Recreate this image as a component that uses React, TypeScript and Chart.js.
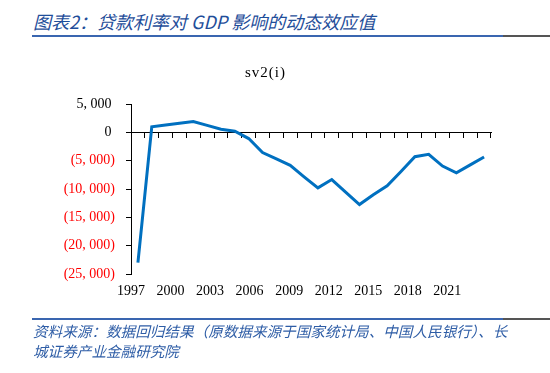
import React, { useEffect, useRef } from "react";
import { Chart, registerables } from "chart.js";

Chart.register(...registerables);

// ---- data ----
const years: string[] = [
  "1997", "1998", "1999", "2000", "2001", "2002", "2003", "2004", "2005",
  "2006", "2007", "2008", "2009", "2010", "2011", "2012", "2013", "2014",
  "2015", "2016", "2017", "2018", "2019", "2020", "2021", "2022",
];
const sv2Values: number[] = [
  -23000, 980, 1300, 1610, 1900, 1220, 560, 200, -1100,
  -3580, -4700, -5830, -7850, -9800, -8330, -10550, -12750, -11000,
  -9450, -6900, -4300, -3870, -5950, -7130, -5750, -4350,
];
const xTickLabels: string[] = [
  "1997", "2000", "2003", "2006", "2009", "2012", "2015", "2018", "2021",
];
const yMin = -25000;
const yMax = 5000;
const yStep = 5000;

const titleText = "图表2：贷款利率对 GDP 影响的动态效应值";
const seriesTitle = "sv2(i)";
const sourceLine1 = "资料来源：数据回归结果（原数据来源于国家统计局、中国人民银行）、长";
const sourceLine2 = "城证券产业金融研究院";

function fmtY(v: number): string {
  const abs = Math.abs(v);
  const s = abs.toLocaleString("en-US").replace(/,/g, ", ");
  if (v < 0) return "(" + s + ")";
  return s + " ";
}

const NUM_FONT = "'Liberation Serif', 'Times New Roman', serif";

export default function App() {
  const ref = useRef<HTMLCanvasElement | null>(null);

  useEffect(() => {
    if (!ref.current) return;
    const chart = new Chart(ref.current, {
      type: "line",
      data: {
        labels: years,
        datasets: [
          {
            label: seriesTitle,
            data: sv2Values,
            borderColor: "#0070C0",
            borderWidth: 3,
            pointRadius: 0,
            tension: 0,
            fill: false,
            xAxisID: "x",
            yAxisID: "y",
          },
        ],
      },
      options: {
        animation: false,
        responsive: false,
        maintainAspectRatio: false,
        events: [],
        layout: { padding: { left: 0, right: 59, top: 104, bottom: 69 } },
        plugins: {
          legend: { display: false },
          title: { display: false },
          tooltip: { enabled: false },
        },
        scales: {
          x: {
            type: "category",
            position: { y: 0 } as any,
            offset: true,
            grid: {
              display: true,
              offset: true,
              drawOnChartArea: false,
              drawTicks: true,
              tickLength: 5,
              color: "#000000",
              lineWidth: 1,
            },
            border: { display: true, color: "#000000", width: 1 },
            ticks: { display: false },
          },
          xl: {
            type: "linear",
            axis: "x",
            position: "bottom",
            min: 0,
            max: 9.106,
            grid: { display: false, drawTicks: false, drawOnChartArea: false },
            border: { display: false },
            ticks: {
              stepSize: 1,
              autoSkip: false,
              maxRotation: 0,
              padding: 9,
              color: "#000000",
              font: { family: NUM_FONT, size: 14 },
              callback: (value: any) => {
                const v = Number(value);
                if (Number.isInteger(v) && xTickLabels[v] !== undefined) return xTickLabels[v];
                return "";
              },
            },
            afterFit: (scale: any) => {
              scale.height = 30;
            },
          } as any,
          y: {
            type: "linear",
            position: "left",
            min: yMin,
            max: yMax,
            grid: {
              display: true,
              drawOnChartArea: false,
              drawTicks: true,
              tickLength: 5,
              color: "#000000",
              lineWidth: 1,
            },
            border: { display: true, color: "#000000", width: 1 },
            ticks: {
              stepSize: yStep,
              padding: 11,
              font: { family: NUM_FONT, size: 14 },
              color: (ctx: any) => (ctx.tick && ctx.tick.value < 0 ? "#FF0000" : "#000000"),
              callback: (value: any) => fmtY(Number(value)),
            },
            afterFit: (scale: any) => {
              scale.width = 131;
            },
          },
        },
      },
    });
    return () => chart.destroy();
  }, []);

  const cjk = "'Noto Sans CJK SC', 'Noto Sans', sans-serif";

  return (
    <div style={{ position: "absolute", left: 0, top: 0, width: 550, height: 373, background: "#ffffff", overflow: "hidden" }}>
      <div
        style={{
          position: "absolute",
          left: 33,
          top: 9,
          fontFamily: cjk,
          fontStyle: "italic",
          fontSize: 18,
          lineHeight: "24px",
          color: "#1F4E9A",
          whiteSpace: "nowrap",
        }}
      >
        {titleText}
      </div>
      <div style={{ position: "absolute", left: 32, top: 35, width: 471, height: 2, background: "#3A66B0" }} />
      <div style={{ position: "absolute", left: 503, top: 35, width: 47, height: 2, background: "#555555" }} />

      <canvas ref={ref} width={550} height={373} style={{ position: "absolute", left: 0, top: 0, width: 550, height: 373 }} />

      <div
        style={{
          position: "absolute",
          left: 245,
          top: 62,
          fontFamily: NUM_FONT,
          fontSize: 15,
          lineHeight: "20px",
          letterSpacing: "1px",
          color: "#000000",
          whiteSpace: "nowrap",
        }}
      >
        {seriesTitle}
      </div>

      <div style={{ position: "absolute", left: 32, top: 318, width: 471, height: 2, background: "#3A66B0" }} />
      <div style={{ position: "absolute", left: 503, top: 318, width: 47, height: 2, background: "#555555" }} />
      <div
        style={{
          position: "absolute",
          left: 33,
          top: 321,
          fontFamily: cjk,
          fontStyle: "italic",
          fontSize: 14.6,
          lineHeight: "19.5px",
          color: "#2E5DA6",
          whiteSpace: "nowrap",
        }}
      >
        {sourceLine1}
        <br />
        {sourceLine2}
      </div>
    </div>
  );
}
